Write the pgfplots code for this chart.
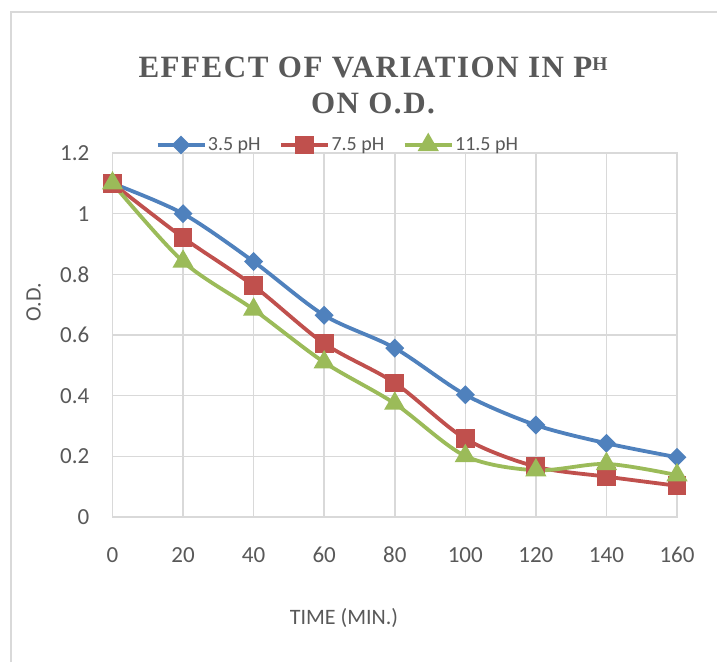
\documentclass[border=0pt]{standalone}
\usepackage{pgfplots}
\pgfplotsset{compat=1.18}
\usepackage{fontspec}
\setmainfont{Carlito}
\newfontfamily\titlefont[LetterSpace=5]{Liberation Serif}
\definecolor{txt}{HTML}{595959}
\definecolor{grd}{HTML}{D9D9D9}
\definecolor{cblue}{HTML}{4F81BD}
\definecolor{cred}{HTML}{C0504D}
\definecolor{cgreen}{HTML}{9BBB59}
\begin{document}
\begin{tikzpicture}
\useasboundingbox (0pt,0pt) rectangle (717pt,662pt);
\fill[white] (0pt,0pt) rectangle (717pt,662pt);
\draw[grd, line width=2.7pt] (11pt,0pt) -- (11pt,650pt) -- (717pt,650pt);
\begin{axis}[
  at={(112.5pt,145pt)}, anchor=south west,
  scale only axis, width=564.5pt, height=364pt,
  xmin=0, xmax=160, ymin=0, ymax=1.2,
  xtick={0,20,...,160}, ytick={0,0.2,...,1.2},
  grid=major, major grid style={grd, line width=1.5pt},
  axis line style={grd, line width=1.5pt},
  tick style={draw=none},
  /pgf/number format/assume math mode=true,
  ticklabel style={font=\fontsize{23}{27}\selectfont, text=txt},
  xticklabel style={anchor=center, yshift=-38pt},
  yticklabel style={anchor=east, inner sep=0pt, xshift=-23pt},
  xlabel={TIME (MIN.)}, ylabel={O.D.},
  label style={font=\fontsize{22}{26}\selectfont, text=txt},
  xlabel style={at={(axis description cs:0.41,-0.277)}, anchor=center},
  ylabel style={at={(axis description cs:-0.14,0.59)}, anchor=center},
  legend columns=3,
  legend style={at={(axis description cs:0.076,1.022)}, anchor=west, draw=none, fill=none,
    inner sep=0pt, font=\fontsize{20}{24}\selectfont, text=txt,
    nodes={inner sep=1.5pt},
    /tikz/every even column/.append style={column sep=17pt}},
  legend image code/.code={\draw[mark repeat=2,mark phase=2,#1] plot coordinates {(0pt,0pt) (23.5pt,0pt) (47pt,0pt)};},
  every axis plot/.append style={line width=3.8pt, smooth, tension=0.5},
]
\addplot[cblue, mark=square*, mark options={rotate=45, solid}, mark size=4.8pt] coordinates {
(0,1.1) (20,1.0) (40,0.842) (60,0.665) (80,0.557) (100,0.403) (120,0.303) (140,0.243) (160,0.197)};
\addlegendentry{3.5 pH}
\addplot[cred, mark=square*, mark options={solid}, mark size=7.5pt] coordinates {
(0,1.1) (20,0.921) (40,0.762) (60,0.572) (80,0.442) (100,0.258) (120,0.166) (140,0.133) (160,0.103)};
\addlegendentry{7.5 pH}
\addplot[cgreen, mark=triangle*, mark options={solid}, mark size=8.5pt] coordinates {
(0,1.1) (20,0.842) (40,0.684) (60,0.51) (80,0.374) (100,0.201) (120,0.154) (140,0.175) (160,0.138)};
\addlegendentry{11.5 pH}
\end{axis}
\node[anchor=base, text=txt, inner sep=0pt, font=\titlefont\bfseries\fontsize{31}{36}\selectfont] at (373pt,584pt) {EFFECT OF VARIATION IN P\raisebox{7pt}{\fontsize{19.5}{20}\selectfont H}};
\node[anchor=base, text=txt, inner sep=0pt, font=\titlefont\bfseries\fontsize{31}{36}\selectfont] at (373pt,548pt) {ON O.D.};
\end{tikzpicture}
\end{document}
